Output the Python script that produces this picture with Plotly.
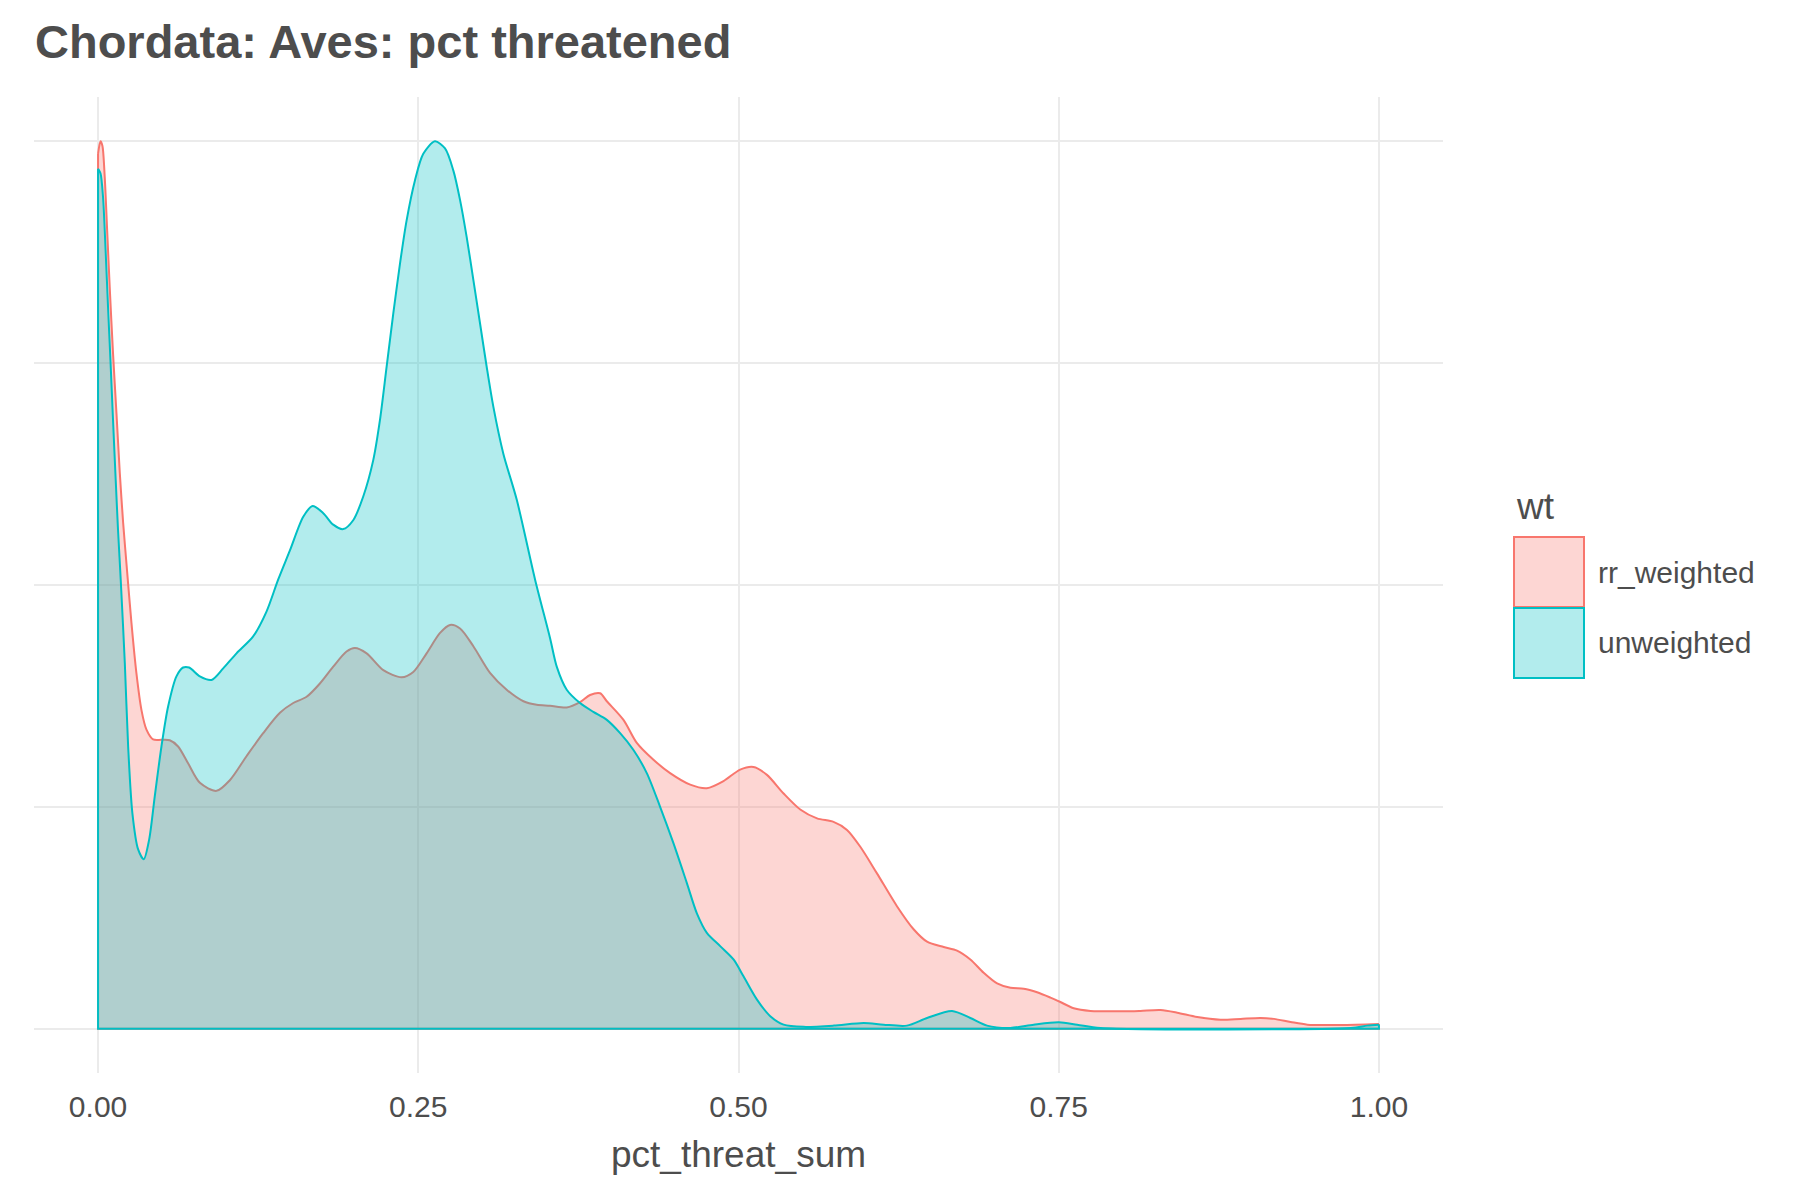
import plotly.graph_objects as go

# ---------------- data ----------------
title_text = "Chordata: Aves: pct threatened"
x_title = "pct_threat_sum"
legend_title = "wt"
series_names = ["rr_weighted", "unweighted"]

x_ticks = [0.0, 0.25, 0.5, 0.75, 1.0]
x_tick_labels = ["0.00", "0.25", "0.50", "0.75", "1.00"]
y_ticks = [0.0, 0.25, 0.5, 0.75, 1.0]

rr_x = [0.0000, 0.0019, 0.0034, 0.0052, 0.0071, 0.0091, 0.0117, 0.0144, 0.0170, 0.0196,
        0.0222, 0.0261, 0.0300, 0.0339, 0.0378, 0.0430, 0.0495, 0.0560, 0.0625, 0.0703,
        0.0795, 0.0925, 0.1029, 0.1159, 0.1289, 0.1420, 0.1524, 0.1628, 0.1732, 0.1836,
        0.1940, 0.2005, 0.2097, 0.2227, 0.2370, 0.2461, 0.2565, 0.2670, 0.2748, 0.2826,
        0.2930, 0.3060, 0.3190, 0.3321, 0.3425, 0.3529, 0.3659, 0.3763, 0.3841, 0.3920,
        0.3972, 0.4102, 0.4206, 0.4336, 0.4466, 0.4623, 0.4753, 0.4883, 0.5013, 0.5117,
        0.5222, 0.5352, 0.5482, 0.5613, 0.5742, 0.5847, 0.5951, 0.6081, 0.6237, 0.6367,
        0.6472, 0.6602, 0.6706, 0.6810, 0.6914, 0.7019, 0.7123, 0.7227, 0.7331, 0.7435,
        0.7513, 0.7617, 0.7748, 0.8008, 0.8138, 0.8295, 0.8425, 0.8581, 0.8763, 0.8920,
        0.9076, 0.9180, 0.9310, 0.9441, 0.9701, 1.0000]
rr_y = [0.986, 1.000, 0.995, 0.960, 0.900, 0.836, 0.761, 0.693, 0.626, 0.570,
        0.524, 0.457, 0.400, 0.359, 0.337, 0.326, 0.3255, 0.325, 0.318, 0.299,
        0.277, 0.268, 0.280, 0.307, 0.333, 0.356, 0.367, 0.374, 0.389, 0.408,
        0.425, 0.429, 0.423, 0.404, 0.396, 0.402, 0.423, 0.446, 0.455, 0.451,
        0.431, 0.401, 0.382, 0.369, 0.365, 0.364, 0.362, 0.368, 0.376, 0.378,
        0.369, 0.348, 0.322, 0.303, 0.288, 0.275, 0.271, 0.279, 0.292, 0.295,
        0.286, 0.265, 0.247, 0.237, 0.233, 0.224, 0.205, 0.175, 0.138, 0.112,
        0.098, 0.092, 0.088, 0.078, 0.063, 0.051, 0.046, 0.045, 0.041, 0.035,
        0.030, 0.023, 0.020, 0.0195, 0.020, 0.021, 0.018, 0.013, 0.010, 0.011,
        0.012, 0.011, 0.0075, 0.0045, 0.0042, 0.0053]

uw_x = [0.0000, 0.0019, 0.0039, 0.0060, 0.0078, 0.0097, 0.0117, 0.0138, 0.0156, 0.0177,
        0.0209, 0.0235, 0.0268, 0.0313, 0.0357, 0.0399, 0.0443, 0.0495, 0.0547, 0.0612,
        0.0664, 0.0711, 0.0795, 0.0886, 0.0977, 0.1081, 0.1211, 0.1315, 0.1406, 0.1498,
        0.1602, 0.1675, 0.1758, 0.1836, 0.1914, 0.1992, 0.2071, 0.2149, 0.2201, 0.2253,
        0.2305, 0.2357, 0.2409, 0.2474, 0.2539, 0.2630, 0.2709, 0.2774, 0.2826, 0.2878,
        0.2930, 0.2982, 0.3034, 0.3086, 0.3164, 0.3269, 0.3412, 0.3529, 0.3581, 0.3659,
        0.3763, 0.3867, 0.3972, 0.4076, 0.4180, 0.4284, 0.4388, 0.4492, 0.4597, 0.4675,
        0.4753, 0.4857, 0.4961, 0.5039, 0.5143, 0.5248, 0.5352, 0.5508, 0.5742, 0.5977,
        0.6133, 0.6315, 0.6472, 0.6667, 0.6810, 0.6940, 0.7123, 0.7305, 0.7500, 0.7644,
        0.7826, 0.9779, 0.9909, 1.0000]
uw_y = [0.969, 0.964, 0.937, 0.874, 0.813, 0.753, 0.686, 0.618, 0.562, 0.506,
        0.412, 0.318, 0.243, 0.202, 0.191, 0.213, 0.262, 0.318, 0.363, 0.397,
        0.407, 0.407, 0.397, 0.393, 0.406, 0.423, 0.442, 0.470, 0.506, 0.539,
        0.577, 0.589, 0.581, 0.568, 0.563, 0.573, 0.600, 0.641, 0.686, 0.746,
        0.806, 0.862, 0.911, 0.956, 0.986, 1.000, 0.992, 0.967, 0.934, 0.892,
        0.844, 0.795, 0.746, 0.701, 0.648, 0.596, 0.506, 0.440, 0.408, 0.382,
        0.367, 0.357, 0.348, 0.333, 0.314, 0.288, 0.250, 0.209, 0.164, 0.130,
        0.108, 0.093, 0.078, 0.059, 0.033, 0.014, 0.0045, 0.002, 0.0034, 0.0064,
        0.0045, 0.0034, 0.012, 0.020, 0.012, 0.0034, 0.0008, 0.0045, 0.0071, 0.0045,
        0.0008, 0.0008, 0.0034, 0.0045]

# ---------------- styling ----------------
line_colors = ["#F8766D", "#00BFC4"]
fill_colors = ["rgba(248,118,109,0.3)", "rgba(0,191,196,0.3)"]
text_color = "#4D4D4D"
grid_color = "#EBEBEB"
font_family = "Liberation Sans, Arial, Helvetica, sans-serif"

W, H = 1800, 1200
L, R, T, B = 34, 1443, 97, 1073  # plot-area pixel box


def px_to_paper(px, py):
    return (px - L) / (R - L), (B - py) / (B - T)


fig = go.Figure()

series = [(rr_x, rr_y), (uw_x, uw_y)]
for i, (xs, ys) in enumerate(series):
    fig.add_trace(go.Scatter(
        x=xs, y=ys, mode="lines", name=series_names[i],
        line=dict(color=line_colors[i], width=2, shape="spline", smoothing=0.8),
        fill="tozeroy", fillcolor=fill_colors[i], showlegend=False,
        hoverinfo="skip"))
    # full outline: vertical ends and baseline (derived from data ends)
    fig.add_trace(go.Scatter(
        x=[xs[0], xs[0], xs[-1], xs[-1]], y=[ys[0], 0, 0, ys[-1]],
        mode="lines", line=dict(color=line_colors[i], width=2),
        showlegend=False, hoverinfo="skip"))

fig.update_layout(
    width=W, height=H,
    margin=dict(l=L, r=W - R, t=T, b=H - B),
    paper_bgcolor="white", plot_bgcolor="white",
    font=dict(family=font_family, color=text_color),
    showlegend=False,
    title=dict(text="<b>" + title_text + "</b>", x=35 / W, xanchor="left", xref="container",
               y=1 - 42 / H, yanchor="middle", yref="container",
               font=dict(size=47, color=text_color, family=font_family)),
)

fig.update_xaxes(range=[-0.05, 1.05], tickvals=x_ticks, ticktext=x_tick_labels,
                 showgrid=True, gridcolor=grid_color, gridwidth=2, zeroline=False,
                 showline=False, ticks="", ticklabelstandoff=13,
                 tickfont=dict(size=30, color=text_color, family=font_family))
fig.update_yaxes(range=[-0.05, 1.05], tickvals=y_ticks, showticklabels=False,
                 showgrid=True, gridcolor=grid_color, gridwidth=2, zeroline=False,
                 showline=False, ticks="")

# axis title
ax, ay = px_to_paper(0, 1154)
fig.add_annotation(text=x_title, x=0.5, xref="x", y=ay, yref="paper",
                   xanchor="center", yanchor="middle", showarrow=False,
                   font=dict(size=37, color=text_color, family=font_family))

# legend (manual, ggplot-like)
lx, ly = px_to_paper(1514, 506)
fig.add_annotation(text=legend_title, x=lx, y=ly, xref="paper", yref="paper",
                   xanchor="left", yanchor="middle", showarrow=False,
                   font=dict(size=37, color=text_color, family=font_family))
key_tops = [537, 608]
key_h, key_w, key_left = 70, 70, 1514
for i, name in enumerate(series_names):
    x0, y0 = px_to_paper(key_left, key_tops[i])
    x1, y1 = px_to_paper(key_left + key_w, key_tops[i] + key_h)
    fig.add_shape(type="rect", xref="paper", yref="paper", x0=x0, x1=x1, y0=y1, y1=y0,
                  fillcolor=fill_colors[i], line=dict(color=line_colors[i], width=2))
    tx, ty = px_to_paper(key_left + key_w + 12, key_tops[i] + key_h / 2)
    fig.add_annotation(text=name, x=tx, y=ty, xref="paper", yref="paper",
                       xanchor="left", yanchor="middle", showarrow=False,
                       font=dict(size=30, color=text_color, family=font_family))

fig.write_html("out.html", config={"displayModeBar": False},
               post_script="document.body.style.margin='0px';document.body.style.overflow='hidden';")
